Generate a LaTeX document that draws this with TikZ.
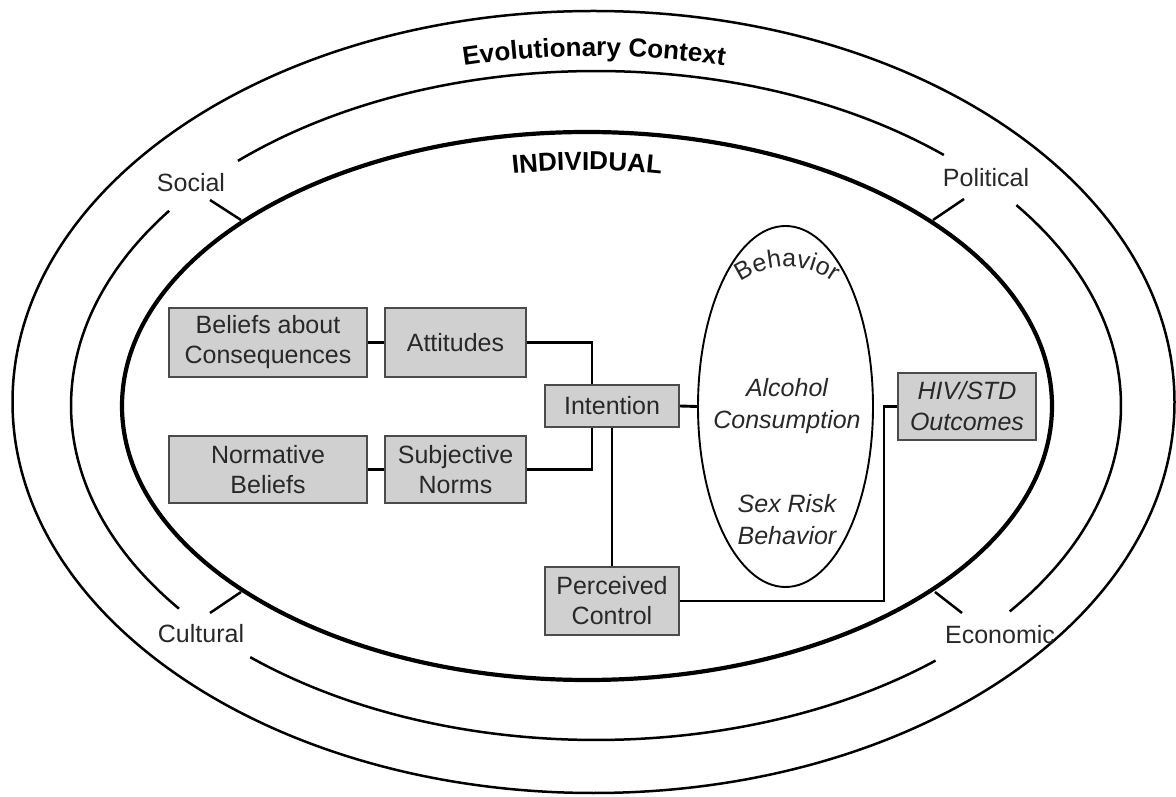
\documentclass[tikz,border=0pt]{standalone}
\usepackage{fontspec}
\setmainfont{Liberation Sans}
\usetikzlibrary{decorations.text,shapes.geometric}
\definecolor{boxfill}{RGB}{208,208,208}
\definecolor{boxline}{RGB}{75,75,75}
\definecolor{txt}{RGB}{40,40,40}
\begin{document}
\begin{tikzpicture}[x=1pt,y=1pt,
  ring/.style={line width=2.5pt, black},
  thickring/.style={line width=4.2pt, black},
  conn/.style={line width=2.9pt, black},
  tick/.style={line width=2.5pt, black},
  box/.style={draw=boxline, fill=boxfill, line width=2pt, align=center, text=txt, inner sep=0pt, font=\fontsize{25}{30}\selectfont},
  ibox/.style={box, font=\fontsize{25}{31}\selectfont\itshape},
  lab/.style={text=txt, font=\fontsize{25}{30}\selectfont, inner sep=0pt},
  itext/.style={text=txt, font=\fontsize{25}{32}\selectfont\itshape, align=center, inner sep=0pt}]
\useasboundingbox (0,0) rectangle (1176,796);

% outer ring
\draw[ring] (593.5,394) ellipse [x radius=581pt, y radius=391pt];
% middle ring (broken at the four labels)
\coordinate (mc) at (596,390.5);
\draw[ring] ([shift={(48.5:525pt and 334.5pt)}]mc) arc[start angle=48.5, end angle=133, x radius=525pt, y radius=334.5pt];
\draw[ring] ([shift={(144.4:525pt and 334.5pt)}]mc) arc[start angle=144.4, end angle=217.4, x radius=525pt, y radius=334.5pt];
\draw[ring] ([shift={(228.8:525pt and 334.5pt)}]mc) arc[start angle=228.8, end angle=310.3, x radius=525pt, y radius=334.5pt];
\draw[ring] ([shift={(-38:525pt and 334.5pt)}]mc) arc[start angle=-38, end angle=36.8, x radius=525pt, y radius=334.5pt];
% inner ring
\draw[thickring] (587,390) ellipse [x radius=465pt, y radius=274pt];

% ticks
\draw[tick] (210,596) -- (241,576);
\draw[tick] (964,597) -- (933,576);
\draw[tick] (210,183) -- (241,204);
\draw[tick] (962,183) -- (935,204);

% ring labels
\node[lab] (social) at (191,613) {Social};
\node[lab] (political) at (986,618) {Political};
\node[lab] (cultural) at (201,162) {Cultural};
\node[lab] (economic) at (1000,161) {Economic};

% curved titles
\path[decorate, decoration={text along path, text align=center,
  text={|\fontsize{26}{30}\selectfont\bfseries|Evolutionary Context}}]
  ([shift={(112:553pt and 349pt)}]594,391) arc[start angle=112, end angle=68, x radius=553pt, y radius=349pt];
\path[decorate, decoration={text along path, text align=center,
  text={|\fontsize{26}{30}\selectfont\bfseries|INDIVIDUAL}}]
  ([shift={(115:410pt and 236pt)}]587,390) arc[start angle=115, end angle=65, x radius=410pt, y radius=236pt];

% boxes
\node[box, minimum width=198pt, minimum height=69pt] (bel) at (268,453.5) {Beliefs about\\Consequences};
\node[box, minimum width=141pt, minimum height=69pt] (att) at (455.5,453.5) {Attitudes};
\node[box, minimum width=198pt, minimum height=67pt] (nor) at (268,326.5) {Normative\\Beliefs};
\node[box, minimum width=141pt, minimum height=67pt] (sub) at (455.5,326.5) {Subjective\\Norms};
\node[box, minimum width=134pt, minimum height=42pt] (int) at (612,390) {Intention};
\node[box, minimum width=134pt, minimum height=68pt] (per) at (612,195) {Perceived\\Control};
\node[ibox, minimum width=138pt, minimum height=67pt] (hiv) at (967,389.5) {HIV/STD\\Outcomes};

% behavior ellipse
\node[draw, line width=1.9pt, ellipse, minimum width=175pt, minimum height=361pt, inner sep=0pt] (beh) at (785.5,389.5) {};
\node[itext] (alc) at (787,390) {Alcohol\\Consumption};
\node[itext] (sex) at (787,276) {Sex Risk\\Behavior};
\path[decorate, decoration={text along path, text align=center,
  text={|\fontsize{25}{28}\selectfont\color{txt}|Behavior}}]
  ([shift={(140:80pt)}]787,449) arc[start angle=140, end angle=40, radius=80pt];

% connectors
\draw[conn] (bel.east) -- (att.west);
\draw[conn] (nor.east) -- (sub.west);
\draw[conn] (att.east) -| ([xshift=-20pt]int.north);
\draw[conn] (sub.east) -| ([xshift=-20pt]int.south);
\draw[conn] (int.east) -- (beh.west);
\draw[conn] (int.south) -- (per.north);
\draw[conn] (per.east) -| ([xshift=-13pt]hiv.west) -- (hiv.west);
\end{tikzpicture}
\end{document}
